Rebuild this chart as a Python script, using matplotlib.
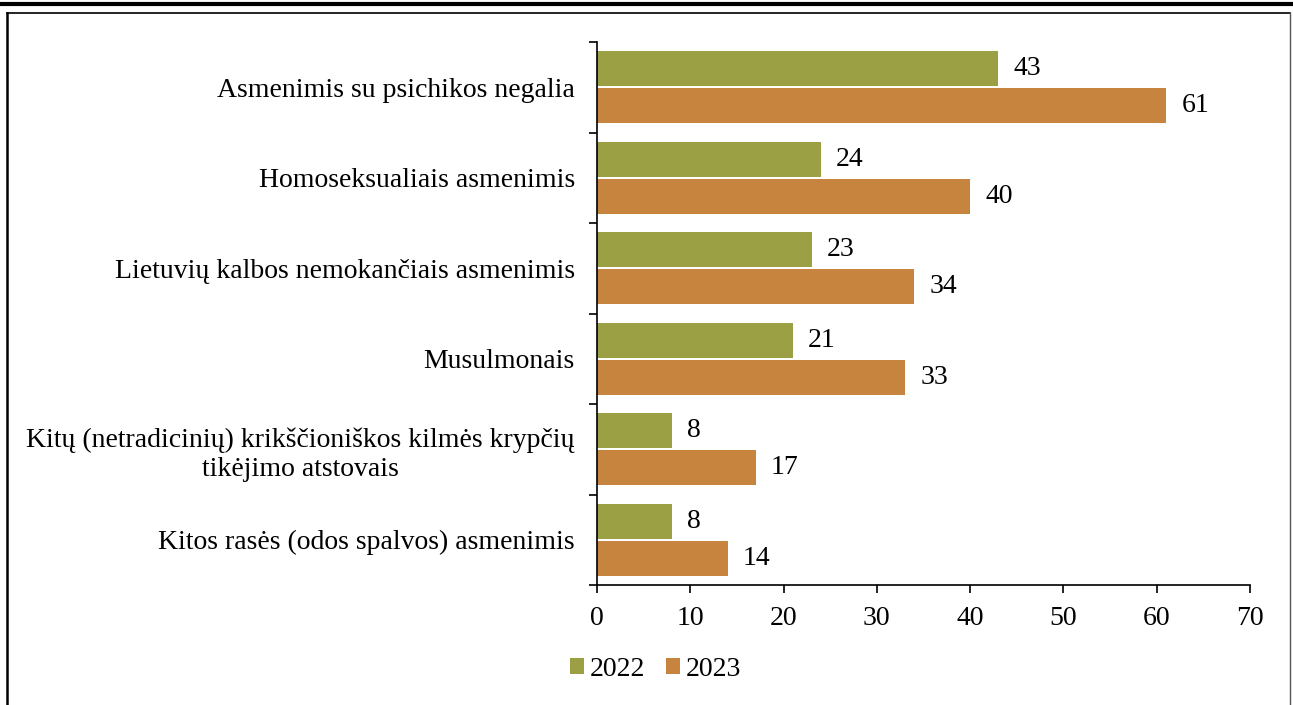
import numpy as np
import matplotlib.pyplot as plt
from matplotlib.lines import Line2D

plt.rcParams['font.family'] = ['Liberation Serif', 'DejaVu Serif']
plt.rcParams['font.size'] = 20

categories = ['Asmenimis su psichikos negalia',
              'Homoseksualiais asmenimis',
              'Lietuvių kalbos nemokančiais asmenimis',
              'Musulmonais',
              'Kitų (netradicinių) krikščioniškos kilmės krypčių\ntikėjimo atstovais',
              'Kitos rasės (odos spalvos) asmenimis']
v2022 = [43, 24, 23, 21, 8, 8]
v2023 = [61, 40, 34, 33, 17, 14]
xticks = [0, 10, 20, 30, 40, 50, 60, 70]

c22 = '#9BA044'
c23 = '#C6843F'

fig = plt.figure(figsize=(12.93, 7.05), dpi=100)
ax = fig.add_axes([0.4617, 0.1702, 0.505, 0.7702])

y = np.arange(len(categories))
h = 0.385
b1 = ax.barh(y - h/2 - 0.012, v2022, height=h, color=c22, label='2022')
b2 = ax.barh(y + h/2 + 0.012, v2023, height=h, color=c23, label='2023')
ax.bar_label(b1, padding=11, fontsize=20)
ax.bar_label(b2, padding=11, fontsize=20)

ax.set_ylim(len(categories) - 0.5, -0.5)
ax.set_xlim(0, 70)
ax.set_xticks(xticks)
ax.set_yticks(y)
ax.set_yticklabels(categories, multialignment='center', linespacing=1.25)
ax.set_yticks(np.arange(-0.5, len(categories)), minor=True)
ax.tick_params(axis='y', which='major', length=0, pad=16)
ax.tick_params(axis='y', which='minor', length=6, width=1.2)
ax.tick_params(axis='x', length=6, width=1.2, pad=9)
for s in ['top', 'right']:
    ax.spines[s].set_visible(False)
for s in ['left', 'bottom']:
    ax.spines[s].set_linewidth(1.2)

fig.legend(loc='center', bbox_to_anchor=(0.507, 0.051), ncol=2, frameon=False,
           handlelength=0.5, handleheight=0.5, handletextpad=0.2, columnspacing=0.75,
           fontsize=20)

# page frame
fig.add_artist(Line2D([0, 1], [0.995, 0.995], color='black', lw=3, transform=fig.transFigure))
fig.add_artist(Line2D([0.0058, 0.9977], [0.9816, 0.9816], color='black', lw=1.2, transform=fig.transFigure))
fig.add_artist(Line2D([0.0058, 0.0058], [0, 0.9816], color='black', lw=1.8, transform=fig.transFigure))
fig.add_artist(Line2D([0.9977, 0.9977], [0, 0.9816], color='#555555', lw=1, transform=fig.transFigure))

fig.savefig('out.png', dpi=100)
